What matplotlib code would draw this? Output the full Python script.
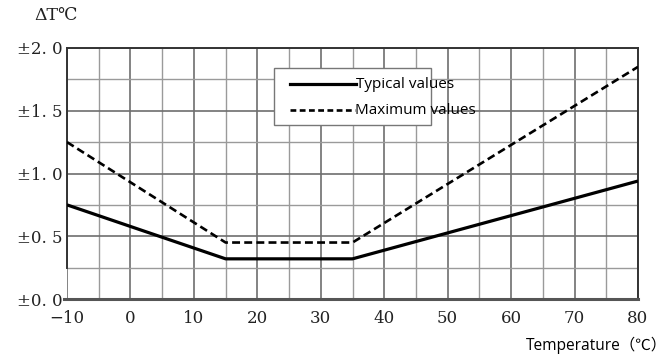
import matplotlib
matplotlib.use("Agg")
import matplotlib.pyplot as plt
from matplotlib.lines import Line2D
from matplotlib.patches import Rectangle

# data
temp = [-10, 15, 35, 80]
typical = [0.75, 0.32, 0.32, 0.94]
maximum = [1.25, 0.45, 0.45, 1.85]

xticks = [-10, 0, 10, 20, 30, 40, 50, 60, 70, 80]
xticklabels = ["\u221210", "0", "10", "20", "30", "40", "50", "60", "70", "80"]
yticks = [0.0, 0.5, 1.0, 1.5, 2.0]
yticklabels = ["\u00b10. 0", "\u00b10. 5", "\u00b11. 0", "\u00b11. 5", "\u00b12. 0"]

W, H = 669, 364
fig = plt.figure(figsize=(W / 100, H / 100), dpi=100)
ax = fig.add_axes([67 / W, 1 - 299 / H, (638 - 67) / W, (299 - 48) / H])

ax.plot(temp, typical, color="black", lw=2.3, solid_capstyle="butt", zorder=3)
ax.plot(temp, maximum, color="black", lw=1.9, linestyle=(0, (3, 1.6)), zorder=3)

ax.set_xlim(-10, 80)
ax.set_ylim(0, 2.0)
ax.set_xticks(xticks)
ax.set_xticklabels(xticklabels)
ax.set_yticks(yticks)
ax.set_yticklabels(yticklabels)
ax.set_xticks([x + 5 for x in xticks[:-1]], minor=True)
ax.set_yticks([y + 0.25 for y in yticks[:-1]], minor=True)

ax.grid(which="major", color="#6e6e6e", lw=1.2)
ax.grid(which="minor", color="#9a9a9a", lw=1.0)
ax.tick_params(which="both", length=0)
ax.tick_params(axis="x", pad=8)
ax.tick_params(axis="y", pad=3)
for lab in ax.get_xticklabels() + ax.get_yticklabels():
    lab.set_family("DejaVu Serif")
    lab.set_fontsize(12)
    lab.set_color("#222222")

for side in ["top", "right"]:
    ax.spines[side].set_color("#333333")
    ax.spines[side].set_linewidth(1.4)
ax.spines["left"].set_color("#333333")
ax.spines["left"].set_linewidth(1.4)
ax.spines["left"].set_bounds(0.25, 2.0)
ax.spines["bottom"].set_color("#555555")
ax.spines["bottom"].set_linewidth(2.2)
ax.spines["bottom"].set_bounds(-10.4, 80)

# legend box (text spills past the box as in the original)
fig.patches.append(Rectangle((274 / W, 1 - 125 / H), (431 - 274) / W, (125 - 68) / H,
                             transform=fig.transFigure, facecolor="white",
                             edgecolor="#777777", lw=1.0, zorder=5))
fig.lines.append(Line2D([290 / W, 356 / W], [1 - 84 / H] * 2, transform=fig.transFigure,
                        color="black", lw=2.3, zorder=6))
fig.lines.append(Line2D([290 / W, 355 / W], [1 - 110 / H] * 2, transform=fig.transFigure,
                        color="black", lw=1.9, linestyle=(0, (2.2, 1.3)), zorder=6))
sans = ["Open Sans", "Noto Sans CJK JP", "DejaVu Sans"]
fig.text(356 / W, 1 - 84 / H, "Typical values", family=sans, fontsize=11,
         va="center", ha="left", zorder=7)
fig.text(355 / W, 1 - 110 / H, "Maximum values", family=sans, fontsize=11,
         va="center", ha="left", zorder=7)

fig.text(34 / W, 1 - 15 / H, "\u0394T\u2103", family=["DejaVu Serif", "Noto Sans CJK JP"],
         fontsize=12.5, va="center", ha="left", color="#222222")
fig.text(526 / W, 1 - 345 / H, "Temperature\uff08\u2103\uff09", family=sans, fontsize=11.2,
         va="center", ha="left")

fig.savefig("out.png", dpi=100)
